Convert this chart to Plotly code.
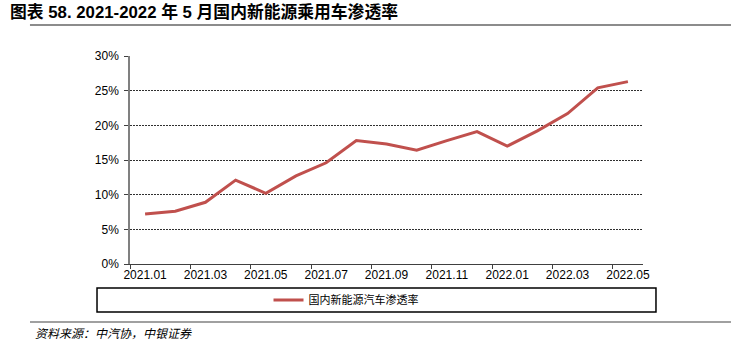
import plotly.graph_objects as go

# Monthly domestic NEV passenger-car penetration rate (%)
months = ["2021.01", "2021.02", "2021.03", "2021.04", "2021.05", "2021.06",
          "2021.07", "2021.08", "2021.09", "2021.10", "2021.11", "2021.12",
          "2022.01", "2022.02", "2022.03", "2022.04", "2022.05"]
penetration = [7.2, 7.6, 8.9, 12.1, 10.2, 12.7, 14.6, 17.8, 17.3, 16.4,
               17.8, 19.1, 17.0, 19.2, 21.7, 25.4, 26.3]
y_ticks = [0, 5, 10, 15, 20, 25, 30]
y_tick_text = [f"{v}%" for v in y_ticks]

series_name = "国内新能源汽车渗透率"
title_text = "<b>图表 58. 2021-2022 年 5 月国内新能源乘用车渗透率</b>"
source_text = "<i>资料来源：中汽协，中银证券</i>"

LATIN = "Liberation Sans, Arial, sans-serif"
CJK = "Liberation Sans, Noto Sans CJK SC, sans-serif"

fig = go.Figure()
fig.add_trace(go.Scatter(
    x=months, y=penetration, mode="lines", name=series_name,
    line=dict(color="#C0504D", width=3),
))

fig.update_layout(
    width=741, height=342,
    margin=dict(l=130, r=98, t=56, b=78),
    paper_bgcolor="white", plot_bgcolor="white",
    font=dict(family=LATIN, size=12, color="#000000"),
    showlegend=True,
    legend=dict(
        x=0.27, xanchor="left", y=-0.173, yanchor="middle",
        orientation="h", bgcolor="rgba(0,0,0,0)",
        font=dict(family="Noto Sans CJK SC, sans-serif", size=11, color="#000"),
        itemwidth=30,
    ),
    xaxis=dict(
        type="category", tickmode="linear", tick0=0, dtick=2,
        tickson="boundaries", ticks="outside", ticklen=4, tickangle=0,
        tickcolor="#404040", showline=True, linecolor="#404040", linewidth=1,
        showgrid=False, tickfont=dict(family=LATIN, size=12, color="#000"),
        range=[-0.5, 16.5], fixedrange=True,
    ),
    yaxis=dict(
        range=[0, 30], tickmode="array", tickvals=y_ticks, ticktext=y_tick_text,
        ticks="outside", ticklen=4, tickcolor="#404040", ticklabelstandoff=3,
        showline=True, linecolor="#808080", linewidth=1.5,
        showgrid=True, gridcolor="#303030", gridwidth=1, griddash="2px,1px",
        zeroline=False, tickfont=dict(family=LATIN, size=12, color="#000"),
    ),
)

# Legend frame, header and footer rules
fig.add_shape(type="rect", xref="paper", yref="paper",
              x0=-0.0643, x1=1.0253, y0=-0.2308, y1=-0.1154,
              line=dict(color="#000000", width=1.5), fillcolor="rgba(0,0,0,0)")
fig.add_shape(type="line", xref="paper", yref="paper",
              x0=-0.195, x1=1.1715, y0=1.149, y1=1.149,
              line=dict(color="#8c8c8c", width=2))
fig.add_shape(type="line", xref="paper", yref="paper",
              x0=-0.195, x1=1.1715, y0=-0.2788, y1=-0.2788,
              line=dict(color="#808080", width=1.5))

fig.add_annotation(text=title_text, xref="paper", yref="paper",
                   x=-0.2378, y=1.2115, xanchor="left", yanchor="middle",
                   showarrow=False,
                   font=dict(family=CJK, size=16.8, color="#000"))
fig.add_annotation(text=source_text, xref="paper", yref="paper",
                   x=-0.189, y=-0.3317, xanchor="left", yanchor="middle",
                   showarrow=False,
                   font=dict(family="Noto Sans CJK SC, sans-serif", size=12, color="#000"))

fig.write_html("out.html")
